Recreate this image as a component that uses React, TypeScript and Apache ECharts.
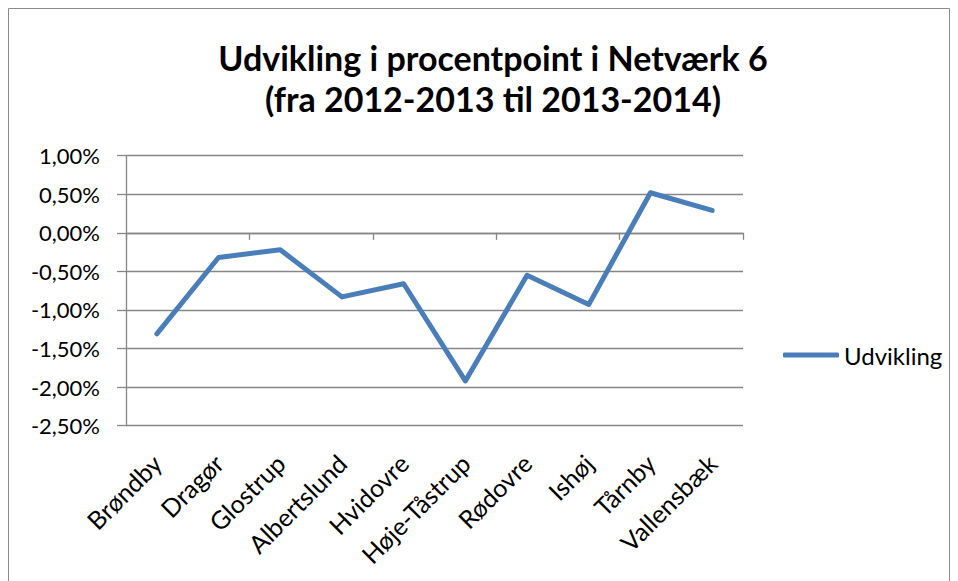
import React, { useEffect, useRef } from "react";
import * as echarts from "echarts";

const categories = ["Brøndby", "Dragør", "Glostrup", "Albertslund", "Hvidovre", "Høje-Tåstrup", "Rødovre", "Ishøj", "Tårnby", "Vallensbæk"];
const udvikling = [-1.31, -0.32, -0.22, -0.83, -0.66, -1.92, -0.55, -0.93, 0.52, 0.29];
const seriesName = "Udvikling";
const titleText = "Udvikling i procentpoint i Netværk 6\n(fra 2012-2013 til 2013-2014)";

const FONT = "Lato";
const GRID = "#868686";

export default function App() {
  const ref = useRef<HTMLDivElement>(null);
  useEffect(() => {
    const chart = echarts.init(ref.current!, null, { renderer: "svg" });
    chart.setOption({
      animation: false,
      backgroundColor: "#fff",
      textStyle: { fontFamily: FONT },
      title: {
        text: titleText,
        left: 493,
        textAlign: "center",
        top: 37,
        padding: 0,
        textStyle: { fontFamily: FONT, fontSize: 34, fontWeight: "bold", lineHeight: 41, color: "#000" },
      },
      legend: {
        data: [seriesName],
        left: 783,
        top: 343,
        padding: 0,
        icon: "roundRect",
        itemWidth: 56,
        itemHeight: 5,
        textStyle: { fontFamily: FONT, fontSize: 24, color: "#000" },
      },
      grid: { left: 126, right: 215, top: 155.7, bottom: 155.3, containLabel: false },
      xAxis: [
        {
          type: "category",
          data: categories,
          boundaryGap: true,
          axisLine: { show: true, onZero: true, lineStyle: { color: GRID, width: 1.3 } },
          axisTick: { show: true, length: 7, inside: false, alignWithLabel: false, lineStyle: { color: GRID, width: 1.3 } },
          axisLabel: { show: false },
          splitLine: { show: false },
        },
        {
          type: "category",
          data: categories,
          position: "bottom",
          boundaryGap: true,
          axisLine: { show: false, onZero: false },
          axisTick: { show: false },
          axisLabel: {
            show: true,
            rotate: 45,
            margin: 33,
            interval: 0,
            fontFamily: FONT,
            fontSize: 25,
            color: "#000",
          },
          splitLine: { show: false },
        },
      ],
      yAxis: {
        type: "value",
        min: -2.5,
        max: 1,
        interval: 0.5,
        axisLine: { show: true, lineStyle: { color: GRID, width: 1.3 } },
        axisTick: { show: true, length: 9, lineStyle: { color: GRID, width: 1.3 } },
        axisLabel: {
          margin: 26,
          fontFamily: FONT,
          fontSize: 22,
          color: "#000",
          formatter: (v: number) => v.toFixed(2).replace(".", ",") + "%",
        },
        splitLine: { show: true, lineStyle: { color: GRID, width: 1.3 } },
      },
      graphic: [
        {
          type: "rect",
          shape: { x: 8.5, y: 8.5, width: 941, height: 590 },
          style: { fill: "none", stroke: "#8c8c8c", lineWidth: 1 },
          silent: true,
        },
      ],
      series: [
        {
          name: seriesName,
          type: "line",
          xAxisIndex: 0,
          data: udvikling,
          showSymbol: false,
          symbol: "none",
          lineStyle: { color: "#4A7EBB", width: 5, cap: "round", join: "round" },
          itemStyle: { color: "#4A7EBB" },
        },
      ],
    });
    return () => chart.dispose();
  }, []);
  return <div ref={ref} style={{ position: "fixed", left: 0, top: 0, width: 958, height: 581 }} />;
}
